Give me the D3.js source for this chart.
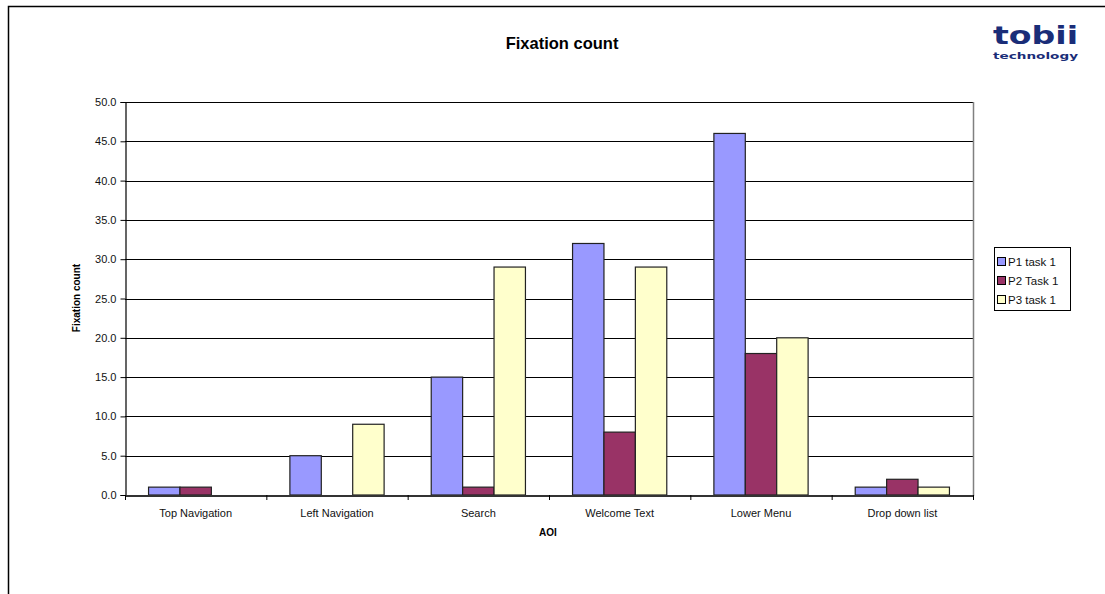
<!DOCTYPE html>
<html>
<head>
<meta charset="utf-8">
<script src="https://cdn.jsdelivr.net/npm/d3@7"></script>
<style>
  html, body { margin: 0; padding: 0; background: #fff; }
  svg { display: block; font-family: "Liberation Sans", Arial, sans-serif; }
</style>
</head>
<body>
<svg id="chart" width="1105" height="594"></svg>
<script>
// Fixation counts per area of interest (AOI) for three participants
const categories = ["Top Navigation", "Left Navigation", "Search", "Welcome Text", "Lower Menu", "Drop down list"];
const seriesNames = ["P1 task 1", "P2 Task 1", "P3 task 1"];
const p1Values = [1, 5, 15, 32, 46, 1];
const p2Values = [1, 0, 1, 8, 18, 2];
const p3Values = [0, 9, 29, 29, 20, 1];
const yTicks = [0, 5, 10, 15, 20, 25, 30, 35, 40, 45, 50];

const seriesValues = [p1Values, p2Values, p3Values];
const colors = ["#9999FF", "#993366", "#FFFFCC"];

const svg = d3.select("#chart");
const W = 1105, H = 594;

// Outer chart frame (continues past the right and bottom edges)
svg.append("rect")
  .attr("x", 8.5).attr("y", 6.5)
  .attr("width", W + 10).attr("height", H + 10)
  .attr("fill", "#fff").attr("stroke", "#000").attr("stroke-width", 1.5);

const plot = { left: 125, right: 973, top: 102, bottom: 495 };

const x0 = d3.scaleBand().domain(categories).range([plot.left, plot.right]).paddingInner(0).paddingOuter(0);
// gap between groups = 1.5 bar widths
const groupW = x0.bandwidth();
const barW = groupW / (3 + 1.5);
const y = d3.scaleLinear().domain([0, 50]).range([plot.bottom, plot.top]);

// Gridlines
svg.append("g")
  .selectAll("line")
  .data(yTicks.filter(d => d > 0))
  .join("line")
  .attr("x1", plot.left).attr("x2", plot.right)
  .attr("y1", d => Math.round(y(d)) + 0.5).attr("y2", d => Math.round(y(d)) + 0.5)
  .attr("stroke", "#000").attr("stroke-width", 1);

// Plot area right edge
svg.append("line")
  .attr("x1", plot.right + 0.5).attr("x2", plot.right + 0.5)
  .attr("y1", plot.top).attr("y2", plot.bottom + 1)
  .attr("stroke", "#808080").attr("stroke-width", 1.5);

// Bars
categories.forEach((cat, ci) => {
  const gx = x0(cat) + groupW / 2 - 1.5 * barW;
  seriesValues.forEach((vals, si) => {
    const v = vals[ci];
    if (v <= 0) return;
    svg.append("rect")
      .attr("x", gx + si * barW)
      .attr("y", y(v))
      .attr("width", barW)
      .attr("height", y(0) - y(v))
      .attr("fill", colors[si])
      .attr("stroke", "#222").attr("stroke-width", 1.2);
  });
});

// Y axis
const yAxis = d3.axisLeft(y).tickValues(yTicks).tickFormat(d3.format(".1f")).tickSize(5).tickPadding(4);
const gy = svg.append("g").attr("transform", `translate(${plot.left + 0.5},0)`).call(yAxis);
gy.select(".domain").attr("stroke", "#000").attr("stroke-width", 1.2);
gy.selectAll(".tick line").attr("stroke", "#000");
gy.selectAll(".tick text").attr("font-size", 11).attr("fill", "#111")
  .attr("font-family", "Liberation Sans, Arial, sans-serif");

// X axis
const xAxis = d3.axisBottom(x0).tickSize(0).tickPadding(14);
const gx = svg.append("g").attr("transform", `translate(0,${plot.bottom + 0.5})`).call(xAxis);
gx.select(".domain").attr("stroke", "#333").attr("stroke-width", 2);
gx.selectAll(".tick text").attr("font-size", 11).attr("fill", "#111")
  .attr("font-family", "Liberation Sans, Arial, sans-serif");
// Category separator tick marks
svg.append("g").selectAll("line")
  .data(d3.range(categories.length + 1))
  .join("line")
  .attr("x1", i => plot.left + i * groupW + 0.5).attr("x2", i => plot.left + i * groupW + 0.5)
  .attr("y1", plot.bottom).attr("y2", plot.bottom + 5)
  .attr("stroke", "#000");

// Titles
svg.append("text").attr("x", 562).attr("y", 49).attr("text-anchor", "middle")
  .attr("font-size", 16.5).attr("font-weight", "bold").attr("fill", "#000").text("Fixation count");
svg.append("text").attr("x", 548).attr("y", 536).attr("text-anchor", "middle")
  .attr("font-size", 10).attr("font-weight", "bold").attr("fill", "#000").text("AOI");
svg.append("text").attr("transform", "translate(80,298) rotate(-90)").attr("text-anchor", "middle")
  .attr("font-size", 10).attr("font-weight", "bold").attr("fill", "#000").text("Fixation count");

// Legend
const lg = svg.append("g");
lg.append("rect").attr("x", 994.5).attr("y", 247.5).attr("width", 76).attr("height", 63)
  .attr("fill", "#fff").attr("stroke", "#000").attr("stroke-width", 1);
seriesNames.forEach((name, i) => {
  const cy = 262 + i * 19;
  lg.append("rect").attr("x", 997.5).attr("y", cy - 4.5).attr("width", 8).attr("height", 8)
    .attr("fill", colors[i]).attr("stroke", "#000").attr("stroke-width", 1);
  lg.append("text").attr("x", 1008).attr("y", cy + 4).attr("font-size", 11.5).attr("fill", "#111").text(name);
});

// Brand mark
svg.append("text").attr("x", 993).attr("y", 44)
  .attr("font-family", "DejaVu Sans, sans-serif").attr("font-weight", "bold")
  .attr("font-size", 24).attr("fill", "#1a2d78")
  .attr("textLength", 85).attr("lengthAdjust", "spacingAndGlyphs").text("tobii");
svg.append("text").attr("x", 993).attr("y", 59)
  .attr("font-family", "DejaVu Sans, sans-serif").attr("font-weight", "bold")
  .attr("font-size", 9).attr("fill", "#1a2d78")
  .attr("textLength", 85).attr("lengthAdjust", "spacingAndGlyphs").text("technology");
</script>
</body>
</html>
